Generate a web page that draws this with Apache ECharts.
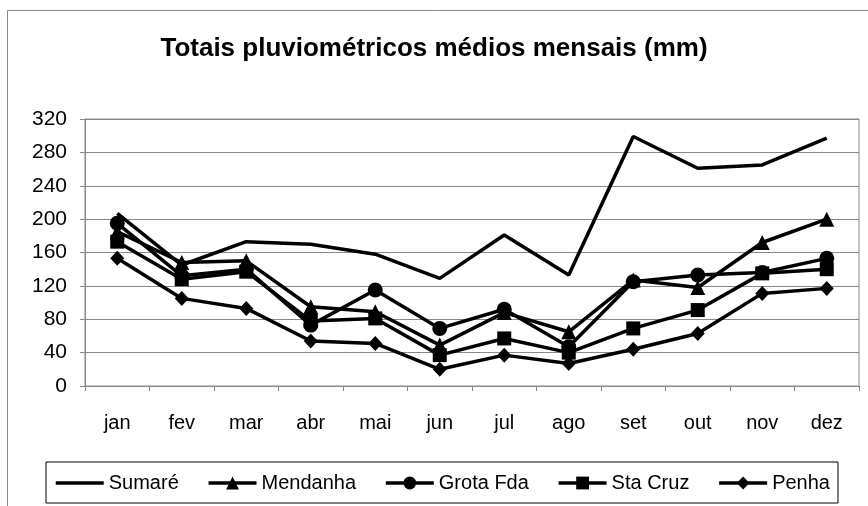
<!DOCTYPE html>
<html>
<head>
<meta charset="utf-8">
<title>Totais pluviométricos médios mensais</title>
<script src="https://cdn.jsdelivr.net/npm/echarts@6/dist/echarts.min.js"></script>
<style>
  html, body { margin: 0; padding: 0; background: #fff; }
  #chart { width: 868px; height: 506px; }
</style>
</head>
<body>
<div id="chart"></div>
<script>
// meses e valores (mm)
const months = ['jan', 'fev', 'mar', 'abr', 'mai', 'jun', 'jul', 'ago', 'set', 'out', 'nov', 'dez']
const sumare = [207, 145, 173, 170, 158, 129, 181, 133, 299, 261, 265, 297]
const mendanha = [185, 148, 150, 95, 89, 49, 88, 65, 127, 118, 172, 200]
const grotaFda = [195, 132, 140, 73, 115, 69, 92, 47, 125, 133, 136, 153]
const staCruz = [173, 128, 137, 78, 81, 37, 57, 40, 69, 91, 135, 140]
const penha = [153, 105, 93, 54, 51, 20, 37, 27, 44, 63, 111, 117]
const yTicks = [0, 40, 80, 120, 160, 200, 240, 280, 320]

const font = 'Liberation Sans, Arial, sans-serif'
const chart = echarts.init(document.getElementById('chart'))

const lineSeries = (name, data, symbol, size) => ({
  name: name,
  type: 'line',
  data: data,
  symbol: symbol,
  symbolSize: size,
  showSymbol: symbol !== 'none',
  animation: false,
  lineStyle: { color: '#000', width: 3.5 },
  itemStyle: { color: '#000' }
})

chart.setOption({
  backgroundColor: '#fff',
  animation: false,
  title: {
    text: 'Totais pluviométricos médios mensais (mm)',
    left: 'center',
    top: 31,
    textStyle: { fontFamily: font, fontSize: 26, fontWeight: 'bold', color: '#000' }
  },
  graphic: [
    {
      type: 'rect',
      shape: { x: 7.5, y: 10.5, width: 900, height: 600 },
      style: { fill: 'none', stroke: '#888', lineWidth: 1 },
      silent: true
    }
  ],
  grid: {
    left: 85,
    right: 9,
    top: 119,
    bottom: 120,
    show: true,
    borderColor: '#888',
    borderWidth: 1
  },
  xAxis: {
    type: 'category',
    data: months,
    boundaryGap: true,
    axisLine: { lineStyle: { color: '#888' } },
    axisTick: { show: true, length: 5, lineStyle: { color: '#888' } },
    axisLabel: { fontFamily: font, fontSize: 20, color: '#000', margin: 27 }
  },
  yAxis: {
    type: 'value',
    min: yTicks[0],
    max: yTicks[yTicks.length - 1],
    interval: yTicks[1] - yTicks[0],
    axisLine: { show: true, lineStyle: { color: '#888' } },
    axisTick: { show: true, length: 5, lineStyle: { color: '#888' } },
    axisLabel: { fontFamily: font, fontSize: 21, color: '#000', margin: 18 },
    splitLine: { lineStyle: { color: '#888', width: 1 } }
  },
  legend: {
    left: 46,
    top: 462,
    width: 792,
    padding: [11, 8, 10, 8],
    itemGap: 28,
    itemWidth: 48,
    itemHeight: 16,
    borderColor: '#000',
    borderWidth: 1,
    lineStyle: { color: '#000', width: 3.5 },
    textStyle: { fontFamily: font, fontSize: 20, color: '#000' },
    data: [
      { name: 'Sumaré', itemStyle: { opacity: 0 } },
      'Mendanha', 'Grota Fda', 'Sta Cruz', 'Penha'
    ]
  },
  series: [
    lineSeries('Sumaré', sumare, 'none', 0),
    lineSeries('Mendanha', mendanha, 'triangle', 15),
    lineSeries('Grota Fda', grotaFda, 'circle', 15),
    lineSeries('Sta Cruz', staCruz, 'rect', 14),
    lineSeries('Penha', penha, 'diamond', [14, 15])
  ]
})
</script>
</body>
</html>
